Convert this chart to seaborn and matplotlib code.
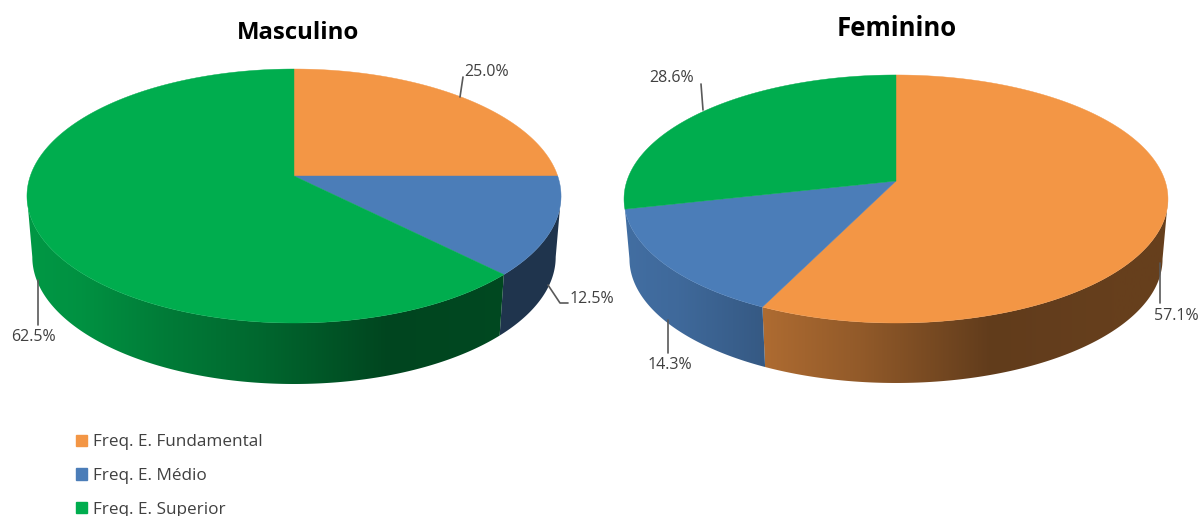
import numpy as np
import seaborn as sns
import matplotlib
matplotlib.use("Agg")
import matplotlib.pyplot as plt
from matplotlib.patches import Patch, Polygon

# values
categories = ["Freq. E. Fundamental", "Freq. E. Médio", "Freq. E. Superior"]
masculino = [25.0, 12.5, 62.5]
feminino = [57.1, 14.3, 28.6]

colors = sns.color_palette(["#F39645", "#4B7DB8", "#00AD4E"])

sns.set_theme(style="white")
plt.rcParams["font.family"] = ["Open Sans", "DejaVu Sans"]

# side wall shading, by position across the pie
shade_x = [-1, -0.8, -0.5, -0.13, 0.35, 0.8, 1]
shade_v = [0.88, 0.84, 0.72, 0.6, 0.4, 0.42, 0.42]


def project(theta, cx, cy, k, a, c, scale=1.0, drop=0):
    # tilted disc: the pie centre does not sit at the middle of the ellipse
    u, v = np.sin(theta), np.cos(theta)
    d = 1 + c * v
    return cx + scale * k * u / d, cy - a * v / d + drop


def pie3d(ax, values, cx, cy, k, a, c, depth):
    fracs = np.array(values) / np.sum(values)
    edges = np.concatenate([[0], np.cumsum(fracs)]) * 2 * np.pi
    rx = k / np.sqrt(1 - c ** 2)
    xs = np.linspace(-1, 1, 400)
    shade = np.interp(xs, shade_x, shade_v)
    # widest points of the rim, the wall is visible between them
    right = np.arccos(-c)
    left = 2 * np.pi - right
    snap = 0.1
    # side wall first, the top face covers the rest
    for i, col in enumerate(colors):
        lo, hi = edges[i], edges[i + 1]
        if hi <= right or lo >= left - snap:
            continue
        lo = lo if lo > right + snap else right
        hi = hi if hi < left - snap else left
        th = np.linspace(lo, hi, 300)
        x0, y0 = project(th, cx, cy, k, a, c)
        x1, y1 = project(th, cx, cy, k, a, c, 0.98, depth)
        poly = Polygon(np.c_[np.r_[x0, x1[::-1]], np.r_[y0, y1[::-1]]], transform=ax.transData)
        grad = (np.array(col)[None, None, :] * shade[None, :, None]).clip(0, 1)
        im = ax.imshow(grad, extent=[cx - rx, cx + rx, cy + 300, cy - 300], aspect="auto",
                       interpolation="bilinear", zorder=1)
        im.set_clip_path(poly)
    for i, col in enumerate(colors):
        th = np.linspace(edges[i], edges[i + 1], 300)
        x, y = project(th, cx, cy, k, a, c)
        ax.fill(np.r_[cx, x], np.r_[cy, y], color=col, lw=0.3, zorder=2)


fig = plt.figure(figsize=(12.04, 5.16), dpi=100)
ax = fig.add_axes([0, 0, 1, 1])

pie3d(ax, masculino, 294, 176, 263.7, 123.85, 0.1575, 61)
pie3d(ax, feminino, 896, 181, 269.1, 121.4, 0.145, 60)

ax.set_xlim(0, 1204)
ax.set_ylim(516, 0)
ax.axis("off")

ax.text(298, 33, "Masculino", ha="center", va="center", fontsize=17.3, fontweight="bold", color="black")
ax.text(897, 28, "Feminino", ha="center", va="center", fontsize=18.5, fontweight="bold", color="black")

# leader lines
leaders = [
    ([460, 463], [97, 77]),
    ([548, 560, 568], [285, 303, 303]),
    ([38, 38], [280, 325]),
    ([703, 701], [110, 84]),
    ([668, 668], [320, 353]),
    ([1160, 1160], [263, 303]),
]
for lx, ly in leaders:
    ax.plot(lx, ly, color="#595959", lw=1.2, zorder=3)

# same order as the values: orange, blue, green
label_pos = [(487, 72), (592, 299), (33, 337), (1176, 316), (670, 365), (672, 78)]
label_vals = masculino + feminino
for (tx, ty), v in zip(label_pos, label_vals):
    ax.text(tx, ty, f"{v:.1f}%", ha="center", va="center", fontsize=11.5, color="#404040")

handles = [Patch(color=col, label=lab) for col, lab in zip(colors, categories)]
ax.legend(handles=handles, loc="upper left", bbox_to_anchor=(76 / 1204, 1 - 434.5 / 516),
          frameon=False, fontsize=12.3, labelcolor="#404040", handlelength=0.65, handleheight=0.65,
          handletextpad=0.35, labelspacing=1.03, borderpad=0, borderaxespad=0)

fig.savefig("out.png", dpi=100)
